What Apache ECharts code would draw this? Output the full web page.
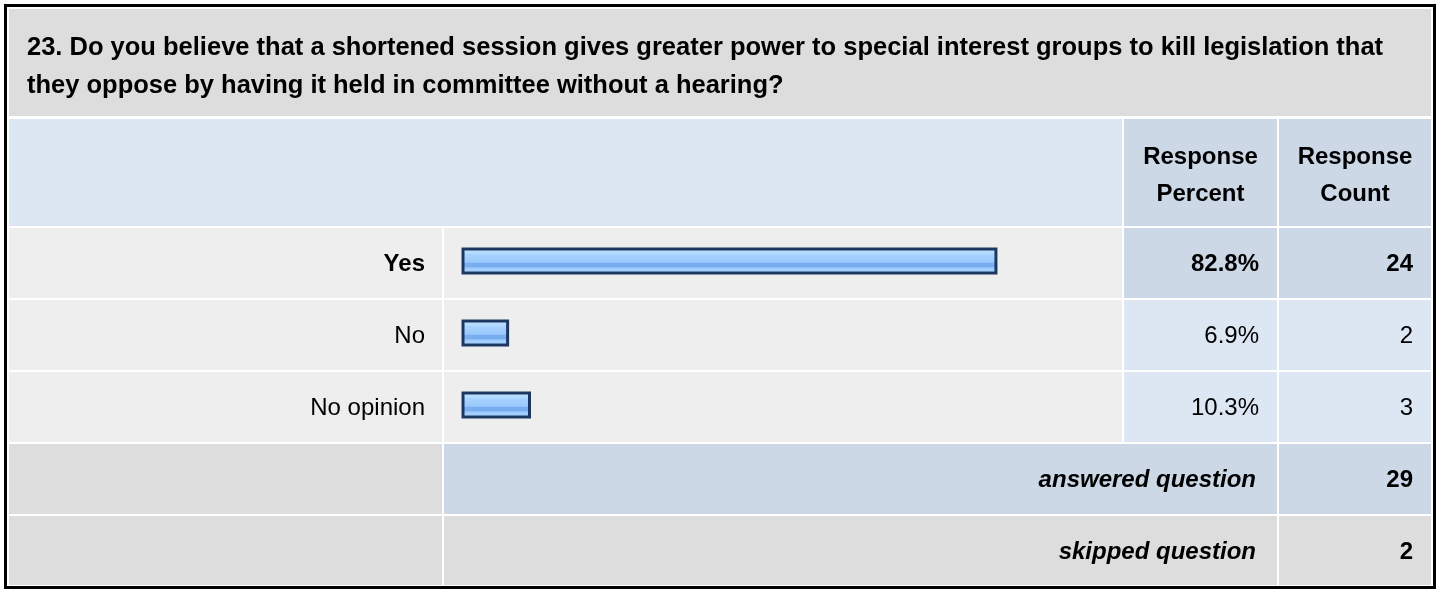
<!DOCTYPE html>
<html>
<head>
<meta charset="utf-8">
<script src="https://cdn.jsdelivr.net/npm/echarts@6/dist/echarts.min.js"></script>
<style>
html,body{margin:0;padding:0;background:#fff;}
#chart{width:1437px;height:589px;}
</style>
</head>
<body>
<div id="chart"></div>
<script>
// ---- data ----
const questionLines = [
  '23. Do you believe that a shortened session gives greater power to special interest groups to kill legislation that',
  'they oppose by having it held in committee without a hearing?'
];
const headerPercent = ['Response', 'Percent'];
const headerCount = ['Response', 'Count'];
const categories = ['Yes', 'No', 'No opinion'];
const percents = [82.8, 6.9, 10.3];
const counts = [24, 2, 3];
const highlighted = [true, false, false];
const summaryLabels = ['answered question', 'skipped question'];
const summaryValues = [29, 2];

// ---- layout ----
const FONT = '"Liberation Sans", Arial, Helvetica, sans-serif';
const C = { c1: [9, 442], c2: [444, 1122], c3: [1124, 1277], c4: [1279, 1431] };
const R = [[9, 116], [119, 226], [228, 298], [300, 370], [372, 442], [444, 514], [516, 585]];
const GRAY = '#dddddd', LIGHT = '#eeeeee', BLUE_L = '#dde7f4', BLUE_D = '#ccd8e6';

const chart = echarts.init(document.getElementById('chart'), null, { renderer: 'canvas' });
const g = [];
function rect(x0, x1, y0, y1, fill) {
  g.push({ type: 'rect', silent: true, z: 0, shape: { x: x0, y: y0, width: x1 - x0, height: y1 - y0 }, style: { fill } });
}
function text(str, x, y, opts) {
  g.push({
    type: 'text', silent: true, z: 100,
    style: Object.assign({
      text: str, x, y, fill: '#000', font: '24px ' + FONT,
      align: 'left', verticalAlign: 'middle'
    }, opts || {})
  });
}
// outer border
rect(4, 1436, 4, 589, '#000');
rect(7, 1433, 7, 586, '#fff');
// question header
rect(C.c1[0], C.c4[1], R[0][0], R[0][1], GRAY);
// column header row
rect(C.c1[0], C.c2[1], R[1][0], R[1][1], BLUE_L);
rect(C.c3[0], C.c3[1], R[1][0], R[1][1], BLUE_D);
rect(C.c4[0], C.c4[1], R[1][0], R[1][1], BLUE_D);
// data rows
categories.forEach((cat, i) => {
  const r = R[2 + i];
  rect(C.c1[0], C.c1[1], r[0], r[1], LIGHT);
  rect(C.c2[0], C.c2[1], r[0], r[1], LIGHT);
  const b = highlighted[i] ? BLUE_D : BLUE_L;
  rect(C.c3[0], C.c3[1], r[0], r[1], b);
  rect(C.c4[0], C.c4[1], r[0], r[1], b);
  const yc = (r[0] + r[1]) / 2 + 1.5;
  const f = (highlighted[i] ? 'bold ' : '') + '24px ' + FONT;
  text(cat, 425, yc, { align: 'right', font: f });
  text(percents[i].toFixed(1) + '%', 1259, yc, { align: 'right', font: f });
  text(String(counts[i]), 1413, yc, { align: 'right', font: f });
});
// summary rows
const sumFill = [BLUE_D, GRAY];
summaryLabels.forEach((lab, i) => {
  const r = R[5 + i];
  rect(C.c1[0], C.c1[1], r[0], r[1], GRAY);
  rect(C.c2[0], C.c3[1], r[0], r[1], sumFill[i]);
  rect(C.c4[0], C.c4[1], r[0], r[1], sumFill[i]);
  const yc = (r[0] + r[1]) / 2 + 1.5;
  text(lab, 1256, yc, { align: 'right', font: 'italic bold 24px ' + FONT });
  text(String(summaryValues[i]), 1413, yc, { align: 'right', font: 'bold 24px ' + FONT });
});
// texts: question and headers
text(questionLines.join('\n'), 27, 66.5, { font: 'bold 25.5px ' + FONT, lineHeight: 38 });
text(headerPercent.join('\n'), 1200.5, 175.5, { align: 'center', font: 'bold 24px ' + FONT, lineHeight: 37 });
text(headerCount.join('\n'), 1355, 175.5, { align: 'center', font: 'bold 24px ' + FONT, lineHeight: 37 });

const option = {
  animation: false,
  grid: { left: 461.5, width: 646.6, top: 225, height: 216, containLabel: false },
  xAxis: { type: 'value', min: -0.5, max: 100, startValue: -0.5, show: false },
  yAxis: { type: 'category', data: categories, inverse: true, show: false },
  graphic: g,
  series: [{
    type: 'bar',
    z: 10,
    data: percents,
    barWidth: 27,
    silent: true,
    itemStyle: {
      borderColor: '#1d3860',
      borderWidth: 3,
      color: {
        type: 'linear', x: 0, y: 0, x2: 0, y2: 1,
        colorStops: [
          { offset: 0, color: '#d8ecff' },
          { offset: 0.14, color: '#bcdeff' },
          { offset: 0.3, color: '#a6d1ff' },
          { offset: 0.55, color: '#98c8fd' },
          { offset: 0.58, color: '#78adf0' },
          { offset: 0.72, color: '#78adf0' },
          { offset: 0.75, color: '#98c9ff' },
          { offset: 1, color: '#b8dcff' }
        ]
      }
    }
  }]
};
chart.setOption(option);
</script>
</body>
</html>
